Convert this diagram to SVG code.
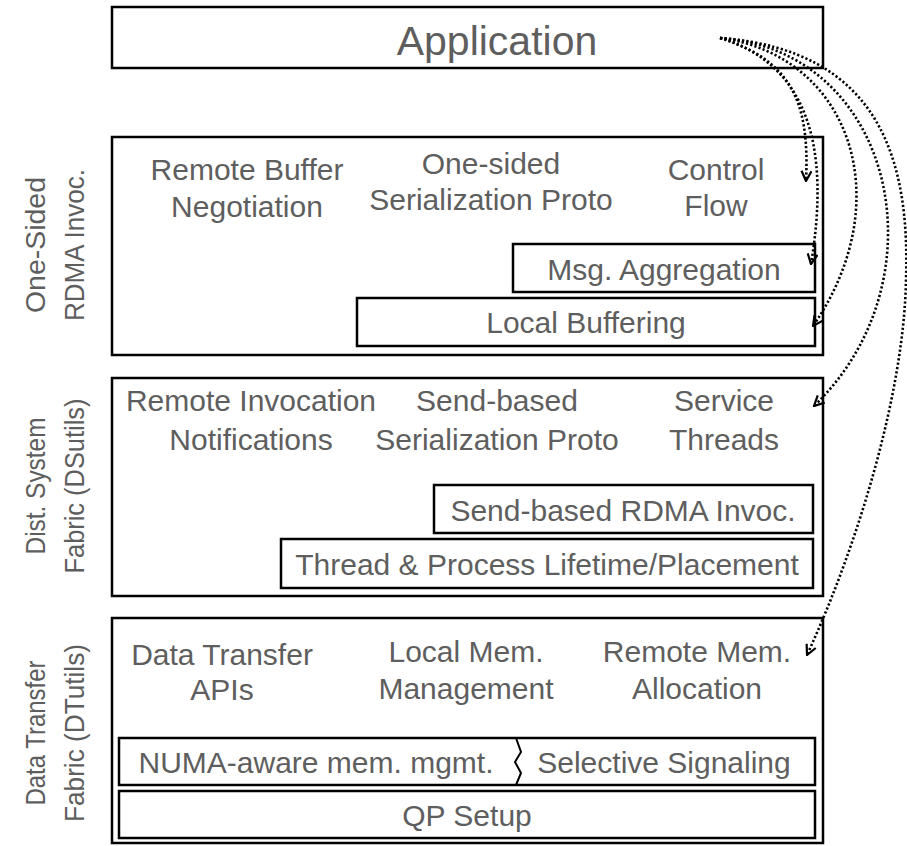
<svg xmlns="http://www.w3.org/2000/svg" width="907" height="846" viewBox="0 0 907 846">
<defs>
<style>
.box{fill:#fff;stroke:#000;stroke-width:2.5}
.inner{fill:#fff;stroke:#000;stroke-width:2.5}
.t{font-family:"Liberation Sans",Arial,sans-serif;font-size:30px;fill:#5e5e5e;text-anchor:middle}
.side{font-family:"Liberation Sans",Arial,sans-serif;font-size:28px;fill:#5e5e5e;text-anchor:middle}
.dot{fill:none;stroke:#000;stroke-width:2.6;stroke-dasharray:2.2 2.2;marker-end:url(#arr)}
</style>
<marker id="arr" viewBox="0 0 12 12" refX="11" refY="6" markerWidth="12" markerHeight="12" markerUnits="userSpaceOnUse" orient="auto">
<path d="M1,1 L11,6 L1,11" fill="none" stroke="#000" stroke-width="2.2"/>
</marker>
</defs>
<rect width="907" height="846" fill="#fff"/>

<g id="application">
<rect class="box" x="112" y="7" width="711" height="61"/>
<text class="t" x="497" y="55" style="font-size:41px">Application</text>
</g>

<g id="one-sided-label">
<text class="side" transform="translate(45,245) rotate(-90)" textLength="136" lengthAdjust="spacingAndGlyphs">One-Sided</text>
<text class="side" transform="translate(84,245) rotate(-90)" textLength="152" lengthAdjust="spacingAndGlyphs">RDMA Invoc.</text>
</g>
<g id="dist-label">
<text class="side" transform="translate(45,486) rotate(-90)" textLength="137" lengthAdjust="spacingAndGlyphs">Dist. System</text>
<text class="side" transform="translate(84,486) rotate(-90)" textLength="175" lengthAdjust="spacingAndGlyphs">Fabric (DSutils)</text>
</g>
<g id="data-label">
<text class="side" transform="translate(45,733) rotate(-90)" textLength="145" lengthAdjust="spacingAndGlyphs">Data Transfer</text>
<text class="side" transform="translate(84,733) rotate(-90)" textLength="178" lengthAdjust="spacingAndGlyphs">Fabric (DTutils)</text>
</g>

<g id="one-sided-layer">
<rect class="box" x="112" y="137" width="711" height="218"/>
<text class="t" x="247" y="180">Remote Buffer</text>
<text class="t" x="247" y="217">Negotiation</text>
<text class="t" x="491" y="174">One-sided</text>
<text class="t" x="491" y="210">Serialization Proto</text>
<text class="t" x="716" y="180">Control</text>
<text class="t" x="716" y="216">Flow</text>
</g>
<g id="msg-aggregation">
<rect class="inner" x="513" y="244" width="302" height="48"/>
<text class="t" x="664" y="280">Msg. Aggregation</text>
</g>
<g id="local-buffering">
<rect class="inner" x="357" y="298" width="458" height="48"/>
<text class="t" x="586" y="333">Local Buffering</text>
</g>

<g id="dist-layer">
<rect class="box" x="112" y="378" width="711" height="218"/>
<text class="t" x="251" y="411">Remote Invocation</text>
<text class="t" x="251" y="450">Notifications</text>
<text class="t" x="497" y="411">Send-based</text>
<text class="t" x="497" y="450">Serialization Proto</text>
<text class="t" x="724" y="411">Service</text>
<text class="t" x="724" y="450">Threads</text>
</g>
<g id="send-based-rdma">
<rect class="inner" x="434" y="485" width="379" height="48"/>
<text class="t" x="623" y="521">Send-based RDMA Invoc.</text>
</g>
<g id="thread-process">
<rect class="inner" x="281" y="539" width="532" height="49"/>
<text class="t" x="547" y="575">Thread &amp; Process Lifetime/Placement</text>
</g>

<g id="data-layer">
<rect class="box" x="112" y="618" width="711" height="225"/>
<text class="t" x="222" y="665">Data Transfer</text>
<text class="t" x="222" y="700">APIs</text>
<text class="t" x="466" y="662">Local Mem.</text>
<text class="t" x="466" y="699">Management</text>
<text class="t" x="697" y="662">Remote Mem.</text>
<text class="t" x="697" y="699">Allocation</text>
</g>
<g id="numa-signaling">
<rect class="inner" x="119" y="738" width="696" height="47"/>
<path d="M516,738 L521,752 L515,762 L521,773 L516,785" fill="none" stroke="#000" stroke-width="2"/>
<text class="t" x="316" y="773">NUMA-aware mem. mgmt.</text>
<text class="t" x="664" y="773">Selective Signaling</text>
</g>
<g id="qp-setup">
<rect class="inner" x="119" y="791" width="696" height="47"/>
<text class="t" x="467" y="826">QP Setup</text>
</g>

<g id="connectors">
<path class="dot" d="M720,38 C790,60 810,100 806,181"/>
<path class="dot" d="M720,38 C810,65 830,150 811,264"/>
<path class="dot" d="M720,38 C850,55 900,200 813,326"/>
<path class="dot" d="M720,38 C895,50 945,280 814,406"/>
<path class="dot" d="M720,38 C880,50 910,160 906,280 C904,390 860,540 807,655"/>
</g>
</svg>
